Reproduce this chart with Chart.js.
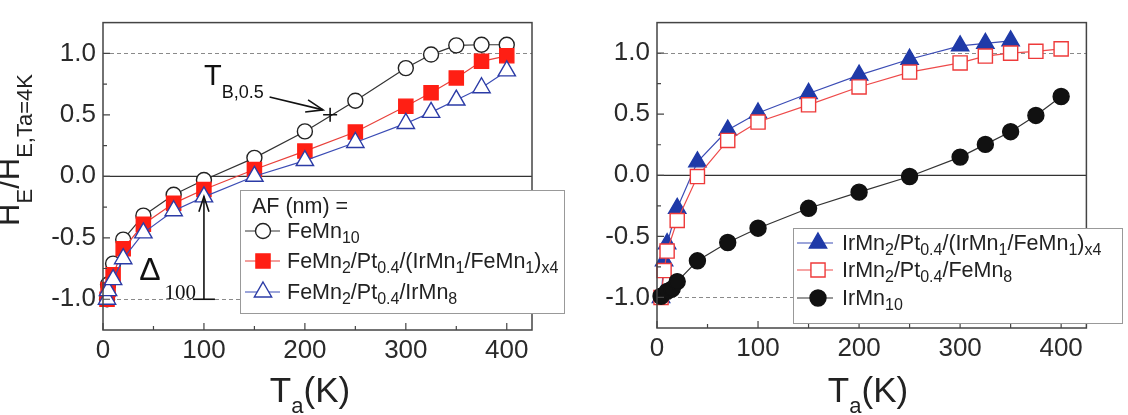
<!DOCTYPE html>
<html lang="en">
<head>
<meta charset="UTF-8">
<title>H_E / H_E(Ta=4K) vs annealing temperature</title>
<script src="https://cdn.jsdelivr.net/npm/chart.js"></script>
<style>
    body { margin: 0; background: #fff; width: 1128px; height: 415px; overflow: hidden; position: relative; }
    canvas { position: absolute; top: 0; }
    #leftChart { left: 0; }
    #rightChart { left: 580px; }
</style>
</head>
<body>
<canvas id="leftChart" width="580" height="415"></canvas>
<canvas id="rightChart" width="548" height="415"></canvas>
<script>
// axis ticks
const xTicks = [0, 100, 200, 300, 400];
const xMinor = [50, 150, 250, 350];
const yTicks = [-1.0, -0.5, 0.0, 0.5, 1.0];
const yMinor = [-0.75, -0.25, 0.25, 0.75];

// left panel: FeMn based stacks
const tLeft = [4, 5, 10, 20, 40, 70, 100, 150, 200, 250, 300, 325, 350, 375, 400];
const feMn10 = [-1.0, -0.88, -0.71, -0.515, -0.32, -0.15, -0.03, 0.15, 0.365, 0.615, 0.88, 0.99, 1.065, 1.07, 1.07];
const feMnMulti = [-1.0, -0.92, -0.80, -0.59, -0.39, -0.22, -0.107, 0.055, 0.205, 0.36, 0.57, 0.68, 0.80, 0.935, 0.98];
const feMnIrMn8 = [-1.0, -0.93, -0.84, -0.67, -0.46, -0.28, -0.167, 0.0, 0.128, 0.275, 0.43, 0.52, 0.62, 0.72, 0.857];
const tbPoint = [225, 0.5];

// right panel: IrMn based stacks
const tIrMnMulti = [4, 7, 10, 20, 40, 70, 100, 150, 200, 250, 300, 325, 350];
const irMnMulti = [-1.0, -0.70, -0.56, -0.27, 0.11, 0.37, 0.51, 0.67, 0.82, 0.95, 1.06, 1.08, 1.10];
const tIrMnFeMn8 = [4, 7, 10, 20, 40, 70, 100, 150, 200, 250, 300, 325, 350, 375, 400];
const irMnFeMn8 = [-1.0, -0.78, -0.62, -0.37, -0.01, 0.285, 0.436, 0.577, 0.723, 0.845, 0.92, 0.976, 1.0, 1.015, 1.035];
const tIrMn10 = [4, 10, 15, 20, 40, 70, 100, 150, 200, 250, 300, 325, 350, 375, 400];
const irMn10 = [-0.99, -0.95, -0.93, -0.87, -0.70, -0.55, -0.433, -0.27, -0.138, -0.01, 0.149, 0.253, 0.357, 0.49, 0.645];

// legend texts, [text, isSubscript]
const leftLegend = [
    [['FeMn', 0], ['10', 1]],
    [['FeMn', 0], ['2', 1], ['/Pt', 0], ['0.4', 1], ['/(IrMn', 0], ['1', 1], ['/FeMn', 0], ['1', 1], [')', 0], ['x4', 1]],
    [['FeMn', 0], ['2', 1], ['/Pt', 0], ['0.4', 1], ['/IrMn', 0], ['8', 1]]
];
const rightLegend = [
    [['IrMn', 0], ['2', 1], ['/Pt', 0], ['0.4', 1], ['/(IrMn', 0], ['1', 1], ['/FeMn', 0], ['1', 1], [')', 0], ['x4', 1]],
    [['IrMn', 0], ['2', 1], ['/Pt', 0], ['0.4', 1], ['/FeMn', 0], ['8', 1]],
    [['IrMn', 0], ['10', 1]]
];
const yTitle = [['H', 0], ['E', 1], ['/H', 0], ['E,Ta=4K', 1]];
const xTitle = [['T', 0], ['a', 1], ['(K)', 0]];

const SANS = "'Liberation Sans', Arial, sans-serif";
const SERIF = "'Liberation Serif', 'Times New Roman', serif";

function toXY(xs, ys) {
    return xs.map((x, i) => ({ x: x, y: ys[i] }));
}

// text with subscripts
function richWidth(ctx, parts, f) {
    let w = 0;
    parts.forEach(p => {
        ctx.font = p[1] ? f.sub : f.main;
        w += ctx.measureText(p[0]).width;
    });
    return w;
}
function drawRich(ctx, parts, x, y, f, align) {
    let cx = x;
    if (align === 'center') cx = x - richWidth(ctx, parts, f) / 2;
    ctx.textAlign = 'left';
    ctx.textBaseline = 'alphabetic';
    parts.forEach(p => {
        ctx.font = p[1] ? f.sub : f.main;
        ctx.fillText(p[0], cx, p[1] ? y + f.dy : y);
        cx += ctx.measureText(p[0]).width;
    });
}

function drawMarker(ctx, ds, x, y) {
    const r = ds.pointRadius;
    ctx.beginPath();
    if (ds.pointStyle === 'circle') {
        ctx.arc(x, y, r, 0, Math.PI * 2);
    } else if (ds.pointStyle === 'rect') {
        const s = r * Math.SQRT1_2;
        ctx.rect(x - s, y - s, 2 * s, 2 * s);
    } else {
        ctx.moveTo(x, y - r);
        ctx.lineTo(x + r * 0.866, y + r / 2);
        ctx.lineTo(x - r * 0.866, y + r / 2);
        ctx.closePath();
    }
    ctx.fillStyle = ds.pointBackgroundColor;
    ctx.fill();
    ctx.lineWidth = ds.pointBorderWidth;
    ctx.strokeStyle = ds.pointBorderColor;
    ctx.stroke();
}

function arrow(ctx, x1, y1, x2, y2, head, ang) {
    ctx.beginPath();
    ctx.moveTo(x1, y1);
    ctx.lineTo(x2, y2);
    ctx.stroke();
    const a = Math.atan2(y2 - y1, x2 - x1);
    ctx.beginPath();
    ctx.moveTo(x2 - head * Math.cos(a - ang), y2 - head * Math.sin(a - ang));
    ctx.lineTo(x2, y2);
    ctx.lineTo(x2 - head * Math.cos(a + ang), y2 - head * Math.sin(a + ang));
    ctx.stroke();
}

function series(label, xs, ys, style, r, fill, stroke, line, order) {
    return {
        label: label,
        data: toXY(xs, ys),
        pointStyle: style,
        pointRadius: r,
        pointHoverRadius: r,
        pointBackgroundColor: fill,
        pointBorderColor: stroke,
        pointBorderWidth: 1.4,
        borderColor: line,
        borderWidth: 1.2,
        showLine: true,
        fill: false,
        tension: 0,
        clip: false,
        order: order
    };
}

// frame, reference lines, inward ticks, titles, legend
function panelPlugin(opt) {
    return {
        id: 'panel',
        beforeDatasetsDraw(chart) {
            const { ctx, chartArea: a, scales: { y } } = chart;
            ctx.save();
            ctx.strokeStyle = '#8a8a8a';
            ctx.lineWidth = 1;
            ctx.setLineDash([4, 3]);
            [-1, 1].forEach(v => {
                const py = Math.round(y.getPixelForValue(v)) + 0.5;
                ctx.beginPath();
                ctx.moveTo(a.left, py);
                ctx.lineTo(a.right, py);
                ctx.stroke();
            });
            ctx.setLineDash([]);
            ctx.strokeStyle = '#333';
            ctx.lineWidth = 1.3;
            const p0 = y.getPixelForValue(0);
            ctx.beginPath();
            ctx.moveTo(a.left, p0);
            ctx.lineTo(a.right, p0);
            ctx.stroke();
            ctx.restore();
        },
        afterDatasetsDraw(chart) {
            const { ctx, chartArea: a, scales: { x, y } } = chart;
            ctx.save();
            ctx.strokeStyle = '#444';
            ctx.lineWidth = 1.5;
            ctx.strokeRect(a.left, a.top, a.right - a.left, a.bottom - a.top);
            ctx.lineWidth = 1.2;
            ctx.beginPath();
            xTicks.forEach(v => { const px = x.getPixelForValue(v); ctx.moveTo(px, a.bottom); ctx.lineTo(px, a.bottom - 7); });
            xMinor.forEach(v => { const px = x.getPixelForValue(v); ctx.moveTo(px, a.bottom); ctx.lineTo(px, a.bottom - 4); });
            yTicks.forEach(v => { const py = y.getPixelForValue(v); ctx.moveTo(a.left, py); ctx.lineTo(a.left + 7, py); });
            yMinor.forEach(v => { const py = y.getPixelForValue(v); ctx.moveTo(a.left, py); ctx.lineTo(a.left + 4, py); });
            ctx.stroke();
            if (opt.annotate) opt.annotate(chart);
            ctx.restore();
        },
        afterDraw(chart) {
            const ctx = chart.ctx;
            ctx.save();
            ctx.fillStyle = '#222';
            drawRich(ctx, xTitle, opt.xTitleX, 402,
                { main: '35px ' + SANS, sub: '22px ' + SANS, dy: 11 }, 'center');
            if (opt.yTitle) {
                ctx.save();
                ctx.translate(19, 150);
                ctx.rotate(-Math.PI / 2);
                drawRich(ctx, yTitle, 0, 0, { main: '31px ' + SANS, sub: '22px ' + SANS, dy: 13 }, 'center');
                ctx.restore();
            }
            // legend box
            const L = opt.legend;
            ctx.fillStyle = '#fff';
            ctx.fillRect(L.x, L.y, L.w, L.h);
            ctx.strokeStyle = '#999';
            ctx.lineWidth = 1;
            ctx.strokeRect(L.x + 0.5, L.y + 0.5, L.w, L.h);
            const f = { main: '21.5px ' + SANS, sub: '16px ' + SANS, dy: 5 };
            ctx.fillStyle = '#222';
            if (L.header) {
                ctx.font = f.main;
                ctx.fillText(L.header, L.textX - 35, L.headerY);
            }
            L.items.forEach((parts, i) => {
                const ds = chart.data.datasets[L.index[i]];
                const ry = L.rows[i];
                ctx.strokeStyle = ds.borderColor;
                ctx.lineWidth = ds.borderWidth;
                ctx.beginPath();
                ctx.moveTo(L.lineX1, ry);
                ctx.lineTo(L.lineX2, ry);
                ctx.stroke();
                drawMarker(ctx, ds, L.markX, ry);
                ctx.fillStyle = '#222';
                drawRich(ctx, parts, L.textX, ry + 7, f, 'left');
            });
            ctx.restore();
        }
    };
}

function axes(yWidth, xHeight) {
    const tickFont = { family: SANS, size: 26 };
    return {
        x: {
            type: 'linear', min: 0, max: 425,
            afterBuildTicks: s => { s.ticks = xTicks.map(v => ({ value: v })); },
            afterFit: s => { s.height = xHeight; },
            grid: { display: false, drawTicks: false },
            border: { display: false },
            ticks: { color: '#2a2a2a', font: tickFont, padding: 5, maxRotation: 0, autoSkip: false, callback: v => String(v) }
        },
        y: {
            type: 'linear', min: -1.25, max: 1.25,
            afterBuildTicks: s => { s.ticks = yTicks.map(v => ({ value: v })); },
            afterFit: s => { s.width = yWidth; },
            grid: { display: false, drawTicks: false },
            border: { display: false },
            ticks: { color: '#2a2a2a', font: tickFont, padding: 7, autoSkip: false, callback: v => v.toFixed(1) }
        }
    };
}

const baseOptions = (pad, yWidth, xHeight) => ({
    responsive: false,
    animation: false,
    events: [],
    layout: { padding: pad },
    scales: axes(yWidth, xHeight),
    plugins: { legend: { display: false }, tooltip: { enabled: false } }
});

// left chart
new Chart(document.getElementById('leftChart'), {
    type: 'line',
    data: {
        datasets: [
            series('FeMn10', tLeft, feMn10, 'circle', 7.5, '#fff', '#222', '#333', 3),
            series('FeMn2/Pt0.4/(IrMn1/FeMn1)x4', tLeft, feMnMulti, 'rect', 10, '#ff1f14', '#ff1f14', '#e8403a', 2),
            series('FeMn2/Pt0.4/IrMn8', tLeft, feMnIrMn8, 'triangle', 10, '#fff', '#2b3ba6', '#3b4cb5', 1),
            {
                label: 'TB', data: [{ x: tbPoint[0], y: tbPoint[1] }], pointStyle: 'cross',
                pointRadius: 7, pointBorderColor: '#111', pointBorderWidth: 1.6, showLine: false, order: 0
            }
        ]
    },
    options: baseOptions({ left: 0, right: 48, top: 11.5, bottom: 0 }, 103, 85),
    plugins: [panelPlugin({
        yTitle: true,
        xTitleX: 310,
        legend: {
            x: 240, y: 190, w: 324, h: 123, header: 'AF (nm) =', headerY: 213,
            rows: [231, 261, 292], index: [0, 1, 2], items: leftLegend,
            markX: 263, lineX1: 245, lineX2: 280, textX: 287
        },
        annotate(chart) {
            const { ctx, scales: { x, y } } = chart;
            ctx.strokeStyle = '#111';
            ctx.fillStyle = '#111';
            ctx.lineWidth = 1.6;
            // T_B,0.5 label and arrow
            drawRich(ctx, [['T', 0], ['B,0.5', 1]], x.getPixelForValue(100), y.getPixelForValue(0.74),
                { main: '29px ' + SANS, sub: '18px ' + SANS, dy: 13 }, 'left');
            arrow(ctx, x.getPixelForValue(165), y.getPixelForValue(0.645),
                x.getPixelForValue(218), y.getPixelForValue(0.54), 18, 0.35);
            // Delta_100 arrow
            const ax = x.getPixelForValue(100);
            const yb = y.getPixelForValue(-1.0);
            ctx.beginPath();
            ctx.moveTo(ax - 11, yb);
            ctx.lineTo(ax + 11, yb);
            ctx.stroke();
            arrow(ctx, ax, yb, ax, y.getPixelForValue(-0.165), 16, 0.32);
            ctx.font = '32px ' + SANS;
            ctx.fillText('\u0394', x.getPixelForValue(36), y.getPixelForValue(-0.842));
            ctx.font = '21px ' + SERIF;
            ctx.fillText('100', x.getPixelForValue(61), y.getPixelForValue(-0.998));
        }
    })]
});

// right chart
new Chart(document.getElementById('rightChart'), {
    type: 'line',
    data: {
        datasets: [
            series('IrMn2/Pt0.4/(IrMn1/FeMn1)x4', tIrMnMulti, irMnMulti, 'triangle', 10, '#1f3aa8', '#1f3aa8', '#3b4cb5', 2),
            series('IrMn2/Pt0.4/FeMn8', tIrMnFeMn8, irMnFeMn8, 'rect', 10, '#fff', '#ee3a3a', '#ee4a4a', 1),
            series('IrMn10', tIrMn10, irMn10, 'circle', 8, '#111', '#111', '#333', 0)
        ]
    },
    options: baseOptions({ left: 0, right: 41.6, top: 9.3, bottom: 0 }, 77, 87),
    plugins: [panelPlugin({
        yTitle: false,
        xTitleX: 288,
        legend: {
            x: 213, y: 228, w: 329, h: 95,
            rows: [243, 270, 298], index: [0, 1, 2], items: rightLegend,
            markX: 238, lineX1: 217, lineX2: 253, textX: 262
        }
    })]
});
</script>
</body>
</html>
